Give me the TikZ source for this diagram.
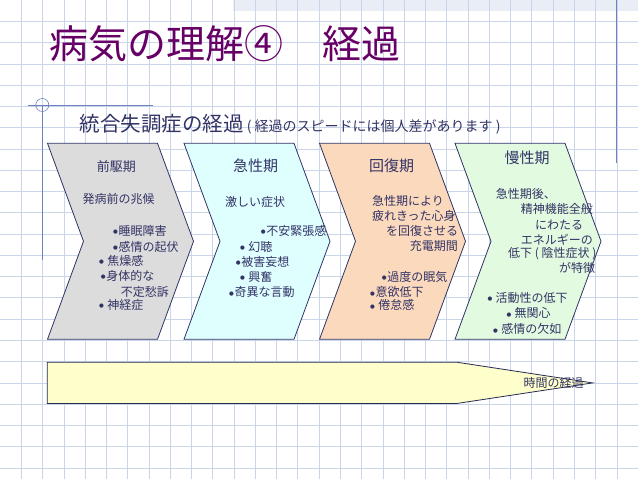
\documentclass[tikz,border=0pt]{standalone}
\usepackage{fontspec}
\setmainfont{Noto Sans CJK JP}
\newfontfamily\dejavu{DejaVu Sans}
\newcommand{\bul}{\raisebox{1.6pt}{\dejavu\fontsize{5.5}{5.5}\selectfont ●}\kern0.6pt}
\begin{document}
\begin{tikzpicture}[x=1pt, y=-1pt,
  gridline/.style={draw=gridcol, line width=0.6pt},
  margin/.style={draw=margincol, line width=0.9pt},
  stage/.style={draw=edgecol, line width=0.8pt, line join=miter},
  head/.style={inner sep=0pt, text=inkcol},
  txt/.style={anchor=west, inner sep=0pt, text=inkcol, font=\fontsize{12}{14}\selectfont}]
\useasboundingbox (0,0) rectangle (638,479);
\definecolor{gridcol}{HTML}{C9D5E8}
\definecolor{margincol}{HTML}{6E80BE}
\definecolor{edgecol}{HTML}{2F3466}
\definecolor{inkcol}{HTML}{333366}
\fill[white] (0,0) rectangle (638,479);
\fill[gridcol!40] (233,0) rectangle (638,10.5);
\foreach \i in {1,...,29} \draw[gridline] (\i*21.27,0) -- (\i*21.27,479);
\foreach \j in {1,...,22} \draw[gridline] (0,\j*21.27) -- (638,\j*21.27);
% margin marks
\draw[margin] (28,105) -- (153,105);
\draw[margin] (42.3,105) -- (42.3,260);
\draw[margin, line width=0.6pt] (42.3,105) circle (6.5);
\draw[margin] (616.7,0) -- (616.7,163);
% title
\definecolor{titlecol}{HTML}{660066}
\node[anchor=west, inner sep=0pt, text=titlecol, font=\fontsize{39}{44}\selectfont] (title) at (49,43.3) {病気の理解④　経過};
\node[anchor=west, inner sep=0pt, text=inkcol] (sub) at (79.5,124.5) {\fontsize{20.5}{24}\selectfont 統合失調症の経過\fontsize{14}{16}\selectfont\ ( 経過のスピードには個人差があります )};
% stages
\definecolor{col}{HTML}{DCDCDC}
\filldraw[stage, fill=col] (47.5,143.3) -- (157.5,143.3) -- (193.5,241.3) -- (157.5,339.3) -- (47.5,339.3) -- (83.5,241.3) -- cycle;
\definecolor{col}{HTML}{DFFFFF}
\filldraw[stage, fill=col] (184,143.3) -- (294,143.3) -- (330,241.3) -- (294,339.3) -- (184,339.3) -- (220,241.3) -- cycle;
\definecolor{col}{HTML}{FBD9BC}
\filldraw[stage, fill=col] (319.5,143.3) -- (429.5,143.3) -- (465.5,241.3) -- (429.5,339.3) -- (319.5,339.3) -- (355.5,241.3) -- cycle;
\definecolor{col}{HTML}{E2FADF}
\filldraw[stage, fill=col] (455,143.3) -- (565,143.3) -- (601,241.3) -- (565,339.3) -- (455,339.3) -- (491,241.3) -- cycle;
% prodromal
\node[head, font=\fontsize{13}{15}\selectfont] (pro) at (116.3,166.7) {前駆期};
\node[txt] (pro1) at (82.3,199.3) {発病前の兆候};
\node[txt] (pro2) at (113,230.7) {\bul 睡眠障害};
\node[txt] (pro3) at (113,246.7) {\bul 感情の起伏};
\node[txt] (pro4) at (99,261) {\bul\ 焦燥感};
\node[txt] (pro5) at (100.7,276) {\bul 身体的な};
\node[txt] (pro6) at (120.7,291.7) {不定愁訴};
\node[txt] (pro7) at (99,305) {\bul\ 神経症};
% acute
\node[head, font=\fontsize{15}{17}\selectfont] (acu) at (255.5,166) {急性期};
\node[txt] (acu1) at (225,201.7) {激しい症状};
\node[txt] (acu2) at (260.7,230.7) {\bul 不安緊張感};
\node[txt] (acu3) at (240,246.7) {\bul\ 幻聴};
\node[txt] (acu4) at (235.7,261.7) {\bul 被害妄想};
\node[txt] (acu5) at (240,276.7) {\bul\ 興奮};
\node[txt] (acu6) at (229,292.3) {\bul 奇異な言動};
% recovery
\node[head, font=\fontsize{15}{17}\selectfont] (rec) at (391.7,166) {回復期};
\node[txt] (rec1) at (372,201) {急性期により};
\node[txt] (rec2) at (372,216) {疲れきった心身};
\node[txt] (rec3) at (386,230.7) {を回復させる};
\node[txt] (rec4) at (409.7,246) {充電期間};
\node[txt] (rec5) at (381.7,276.7) {\bul 過度の眠気};
\node[txt] (rec6) at (370,292.3) {\bul 意欲低下};
\node[txt] (rec7) at (370,305) {\bul\ 倦怠感};
% chronic
\node[head, font=\fontsize{15}{17}\selectfont] (chr) at (527,158) {慢性期};
\node[txt] (chr1) at (495.7,194) {急性期後、};
\node[txt] (chr2) at (520.7,209.3) {精神機能全般};
\node[txt] (chr3) at (535,225) {にわたる};
\node[txt] (chr4) at (520.7,239.3) {エネルギーの};
\node[txt] (chr5) at (508,254) {低下 ( 陰性症状 )};
\node[txt] (chr6) at (559,268.3) {が特徴};
\node[txt] (chr7) at (487.3,297.7) {\bul\ 活動性の低下};
\node[txt] (chr8) at (506.3,313.3) {\bul\ 無関心};
\node[txt] (chr9) at (493,329) {\bul\ 感情の欠如};
% time arrow
\definecolor{col}{HTML}{FFFFCC}
\filldraw[fill=col, draw=edgecol!80!black, line width=0.8pt] (47.2,362.2) -- (456.7,362.2) -- (592.6,382.9) -- (456.7,403.5) -- (47.2,403.5) -- cycle;
\node[head, font=\fontsize{12}{14}\selectfont] (time) at (553.5,383) {時間の経過};
\end{tikzpicture}
\end{document}
